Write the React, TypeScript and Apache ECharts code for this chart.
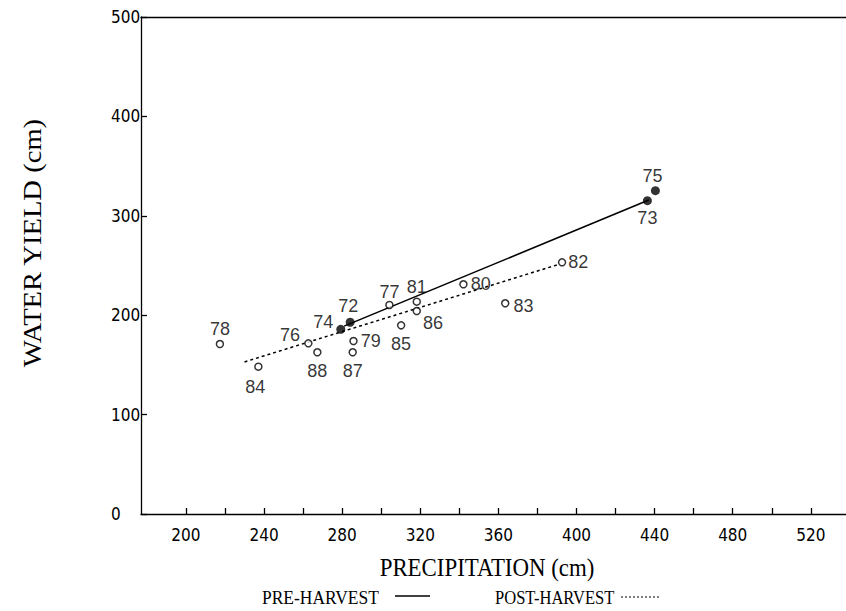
import React, { useEffect, useRef } from "react";
import * as echarts from "echarts";

// ---- data ----
const preYears = ["72", "73", "74", "75"];
const prePrecip = [284.1, 436.3, 279.3, 440.4];
const preYield = [192.9, 315.2, 185.8, 325.3];

const postYears = ["76", "77", "78", "79", "80", "81", "82", "83", "84", "85", "86", "87", "88"];
const postPrecip = [262.7, 304.2, 217.4, 285.8, 342.1, 318.2, 392.6, 363.5, 237.1, 310.2, 318.2, 285.4, 267.3];
const postYield = [171.7, 210.3, 171.0, 174.0, 231.1, 213.6, 253.2, 212.0, 148.2, 189.8, 204.2, 162.7, 162.7];

// regression lines (end points)
const preFitPrecip = [281, 437];
const preFitYield = [189.0, 315.8];
const postFitPrecip = [230, 391];
const postFitYield = [153.0, 251.2];

const xTickValues = [200, 220, 240, 260, 280, 300, 320, 340, 360, 380, 400, 420, 440, 460, 480, 500, 520];
const xLabelValues = [200, 240, 280, 320, 360, 400, 440, 480, 520];

// ---- label placement (style, not data) ----
const labelPlace: Record<string, { position: string; distance: number; offset?: number[] }> = {
  "72": { position: "top", distance: 3, offset: [-2, 0] },
  "73": { position: "bottom", distance: 4 },
  "74": { position: "left", distance: 3, offset: [0, -7] },
  "75": { position: "top", distance: 1, offset: [-3, 0] },
  "76": { position: "left", distance: 4, offset: [0, -8] },
  "77": { position: "top", distance: 0 },
  "78": { position: "top", distance: 2 },
  "79": { position: "right", distance: 3 },
  "80": { position: "right", distance: 3 },
  "81": { position: "top", distance: 1 },
  "82": { position: "right", distance: 2 },
  "83": { position: "right", distance: 4, offset: [0, 3] },
  "84": { position: "bottom", distance: 7, offset: [-3, 0] },
  "85": { position: "bottom", distance: 5 },
  "86": { position: "right", distance: 2, offset: [0, 12] },
  "87": { position: "bottom", distance: 5 },
  "88": { position: "bottom", distance: 5 },
};

const INK = "#000000";
const NUM_FONT = "'Liberation Sans Narrow', 'DejaVu Sans Condensed', 'Liberation Sans', sans-serif";
const LBL_FONT = "'Liberation Sans', Arial, sans-serif";
const SERIF = "'Liberation Serif', 'Times New Roman', serif";

function pointData(years: string[], xs: number[], ys: number[]) {
  return years.map((yr, i) => {
    const p = labelPlace[yr];
    return {
      name: yr,
      value: [xs[i], ys[i]],
      label: { position: p.position, distance: p.distance, offset: p.offset || [0, 0] },
    };
  });
}

export default function App() {
  const ref = useRef<HTMLDivElement>(null);

  useEffect(() => {
    if (!ref.current) return;
    const chart = echarts.init(ref.current, null, { renderer: "svg" });
    const pointLabel = {
      show: true,
      formatter: (p: any) => p.name,
      color: INK,
      fontFamily: LBL_FONT,
      fontSize: 18,
    };
    chart.setOption({
      animation: false,
      backgroundColor: "#ffffff",
      grid: { left: 141, right: 0, top: 17, bottom: 97, containLabel: false },
      xAxis: [
        {
          type: "value",
          min: 177,
          max: 538,
          position: "bottom",
          splitLine: { show: false },
          axisLine: { show: true, onZero: false, lineStyle: { color: INK, width: 1.3 } },
          axisTick: {
            show: true,
            inside: true,
            length: 6,
            customValues: xTickValues,
            lineStyle: { color: INK, width: 1.3 },
          },
          axisLabel: {
            show: true,
            customValues: xLabelValues,
            margin: 12,
            color: INK,
            fontFamily: NUM_FONT,
            fontSize: 17,
          },
        },
        {
          type: "value",
          min: 177,
          max: 538,
          position: "top",
          splitLine: { show: false },
          axisLine: { show: true, onZero: false, lineStyle: { color: INK, width: 1.3 } },
          axisTick: { show: false },
          axisLabel: { show: false },
        },
      ],
      yAxis: {
        type: "value",
        min: 0,
        max: 500,
        interval: 100,
        splitLine: { show: false },
        axisLine: { show: true, onZero: false, lineStyle: { color: INK, width: 1.3 } },
        axisTick: { show: true, inside: true, length: 6, lineStyle: { color: INK, width: 1.3 } },
        axisLabel: { margin: 30, align: "left", color: INK, fontFamily: NUM_FONT, fontSize: 17 },
      },
      series: [
        {
          name: "PRE-HARVEST",
          type: "line",
          data: preFitPrecip.map((x, i) => [x, preFitYield[i]]),
          symbol: "none",
          lineStyle: { color: INK, width: 1.6, type: "solid" },
          z: 2,
        },
        {
          name: "POST-HARVEST",
          type: "line",
          data: postFitPrecip.map((x, i) => [x, postFitYield[i]]),
          symbol: "none",
          lineStyle: { color: INK, width: 1.5, type: [3, 3] },
          z: 2,
        },
        {
          name: "Pre-harvest years",
          type: "scatter",
          data: pointData(preYears, prePrecip, preYield),
          symbol: "circle",
          symbolSize: 9,
          itemStyle: { color: INK },
          label: pointLabel,
          z: 3,
        },
        {
          name: "Post-harvest years",
          type: "scatter",
          data: pointData(postYears, postPrecip, postYield),
          symbol: "circle",
          symbolSize: 7,
          itemStyle: { color: "#ffffff", borderColor: INK, borderWidth: 1.5 },
          label: pointLabel,
          z: 3,
        },
      ],
      graphic: [
        {
          type: "text",
          x: 32,
          y: 243,
          rotation: Math.PI / 2,
          scaleX: 1.1,
          style: {
            text: "WATER YIELD (cm)",
            font: `26px ${SERIF}`,
            fill: INK,
            textAlign: "center",
            textVerticalAlign: "middle",
          },
        },
        {
          type: "text",
          x: 487,
          y: 567,
          scaleX: 0.88,
          style: {
            text: "PRECIPITATION (cm)",
            font: `26px ${SERIF}`,
            fill: INK,
            textAlign: "center",
            textVerticalAlign: "middle",
          },
        },
        {
          type: "text",
          x: 262,
          y: 598,
          scaleX: 0.97,
          style: {
            text: "PRE-HARVEST",
            font: `18px ${SERIF}`,
            fill: INK,
            textAlign: "left",
            textVerticalAlign: "middle",
          },
        },
        {
          type: "line",
          shape: { x1: 395, y1: 596, x2: 430, y2: 596 },
          style: { stroke: INK, lineWidth: 1.6 },
        },
        {
          type: "text",
          x: 495,
          y: 598,
          scaleX: 0.92,
          style: {
            text: "POST-HARVEST",
            font: `18px ${SERIF}`,
            fill: INK,
            textAlign: "left",
            textVerticalAlign: "middle",
          },
        },
        {
          type: "line",
          shape: { x1: 621, y1: 597, x2: 660, y2: 597 },
          style: { stroke: INK, lineWidth: 1, lineDash: [2, 2] },
        },
      ],
    });
    return () => chart.dispose();
  }, []);

  return (
    <div
      ref={ref}
      style={{ position: "absolute", left: 0, top: 0, width: 846, height: 611, background: "#fff" }}
    />
  );
}
